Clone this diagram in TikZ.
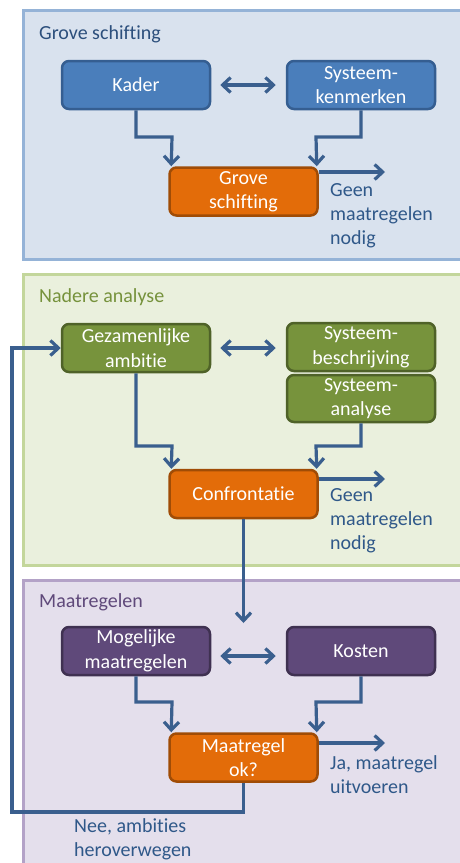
\documentclass[tikz,border=0pt]{standalone}
\usepackage{fontspec}
\setmainfont{Carlito}[Ligatures={NoCommon}]
\usetikzlibrary{arrows.meta}
\definecolor{p1fill}{HTML}{D9E2EE}
\definecolor{p1line}{HTML}{95B3D7}
\definecolor{p2fill}{HTML}{EAF0DD}
\definecolor{p2line}{HTML}{C3D69B}
\definecolor{p3fill}{HTML}{E4DFEC}
\definecolor{p3line}{HTML}{B3A2C7}
\definecolor{bluefill}{HTML}{4A7EBB}
\definecolor{blueline}{HTML}{355E91}
\definecolor{greenfill}{HTML}{77933C}
\definecolor{greenline}{HTML}{4F6228}
\definecolor{purplefill}{HTML}{5F497A}
\definecolor{purpleline}{HTML}{3F3151}
\definecolor{orangefill}{HTML}{E36C09}
\definecolor{orangeline}{HTML}{A04C06}
\definecolor{arrowcol}{HTML}{3A5F8E}
\definecolor{sidetext}{HTML}{2F5889}
\definecolor{t1}{HTML}{2C4F7C}
\definecolor{t2}{HTML}{76923C}
\definecolor{t3}{HTML}{5F497A}
\tikzset{
  panel/.style={line width=3pt},
  box/.style={rounded corners=7pt, line width=2.5pt, minimum width=148pt, minimum height=48pt,
    inner sep=0pt, align=center, text=white, font=\fontsize{20}{24.5}\selectfont},
  bluebox/.style={box, fill=bluefill, draw=blueline},
  greenbox/.style={box, fill=greenfill, draw=greenline},
  purplebox/.style={box, fill=purplefill, draw=purpleline},
  orangebox/.style={box, fill=orangefill, draw=orangeline},
  tip/.style={Straight Barb[length=8pt,width=15pt,line width=3.2pt]},
  conn/.style={draw=arrowcol, line width=3.2pt, -{Straight Barb[length=8pt,width=15pt,line width=3.2pt]}},
  biconn/.style={draw=arrowcol, line width=3.2pt, {Straight Barb[length=8pt,width=15pt,line width=3.2pt]}-{Straight Barb[length=8pt,width=15pt,line width=3.2pt]}},
  side/.style={anchor=north west, inner sep=0pt, align=left, text=sidetext,
    font=\fontsize{20}{24.3}\selectfont, execute at begin node={\rule{0pt}{15pt}}},
  ptitle/.style={anchor=base west, inner sep=0pt, font=\fontsize{20}{24}\selectfont}
}
\begin{document}
\begin{tikzpicture}[x=1pt,y=-1pt]
\useasboundingbox (0,0) rectangle (460,863);
\begin{scope}
\clip (0,0) rectangle (460,863);
% panels
\draw[panel, fill=p1fill, draw=p1line] (23,10) rectangle (475,259);
\draw[panel, fill=p2fill, draw=p2line] (23,274) rectangle (475,565);
\draw[panel, fill=p3fill, draw=p3line] (23,580) rectangle (475,880);
\end{scope}
\node[ptitle, text=t1] (title1) at (39,39) {Grove schifting};
\node[ptitle, text=t2] (title2) at (39,302) {Nadere analyse};
\node[ptitle, text=t3] (title3) at (39,607) {Maatregelen};

% panel 1
\node[bluebox] (kader) at (136,85) {Kader};
\node[bluebox] (syskm) at (361,85) {Systeem-\\kenmerken};
\node[orangebox] (grove) at (243.5,191.5) {Grove\\schifting};
\draw[biconn] ([xshift=9pt]kader.east) -- ([xshift=-10pt]syskm.west);
\draw[conn] (kader.south) |- (172,137) -- ([xshift=3pt]grove.north west);
\draw[conn] (syskm.south) |- (316,137) -- ([xshift=-2pt]grove.north east);
\coordinate (out1) at (385,172);
\draw[conn] (grove.east |- out1) -- (out1);
\node[side] (geen1) at (330,183) {Geen\\maatregelen\\nodig};

% panel 2
\node[greenbox] (gez) at (136,348) {Gezamenlijke\\ambitie};
\node[greenbox, minimum height=48pt] (sysb) at (361,347) {Systeem-\\beschrijving};
\node[greenbox, minimum height=47pt] (sysa) at (361,398.5) {Systeem-\\analyse};
\node[orangebox] (conf) at (243.5,494) {Confrontatie};
\draw[biconn] ([xshift=9pt]gez.east) -- ([xshift=-10pt]sysb.west |- gez.east);
\draw[conn] (gez.south) |- (172,446) -- ([xshift=3pt]conf.north west);
\draw[conn] (sysa.south) |- (316,446) -- ([xshift=-2pt]conf.north east);
\coordinate (out2) at (385,479);
\draw[conn] (conf.east |- out2) -- (out2);
\node[side] (geen2) at (330,488) {Geen\\maatregelen\\nodig};

% panel 3
\node[purplebox] (mog) at (136,651) {Mogelijke\\maatregelen};
\node[purplebox] (kost) at (361,651) {Kosten};
\node[orangebox] (mok) at (243.5,757.5) {Maatregel\\ok?};
\draw[biconn] ([xshift=9pt,yshift=-5pt]mog.east) -- ([xshift=-10pt,yshift=-5pt]kost.west);
\draw[conn] (mog.south) |- (172,702) -- ([xshift=3pt]mok.north west);
\draw[conn] (kost.south) |- (316,702) -- ([xshift=-2pt]mok.north east);
\coordinate (out3) at (385,743);
\draw[conn] (mok.east |- out3) -- (out3);
\node[side] (ja) at (330,755) {Ja, maatregel\\uitvoeren};

% link between panels
\coordinate (into3) at (243.5,623);
\draw[conn] (conf.south) -- (into3);

% feedback loop
\coordinate (fb) at (12,812);
\draw[conn] (mok.south) |- (fb) |- (gez.west);
\node[side] (nee) at (74,818) {Nee, ambities\\heroverwegen};
\end{tikzpicture}
\end{document}
